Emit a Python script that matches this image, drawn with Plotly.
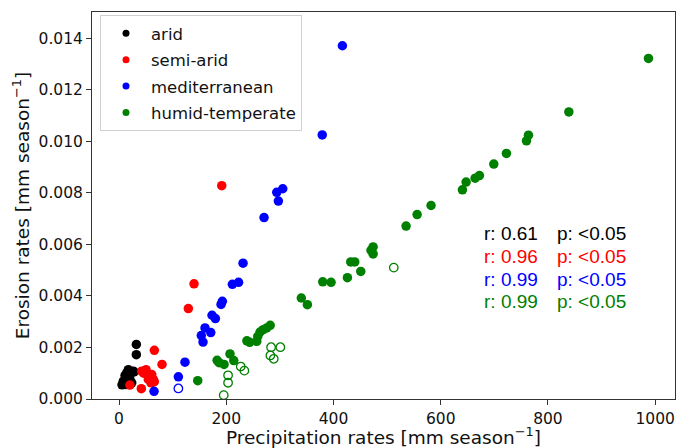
import plotly.graph_objects as go

# Seasonal precipitation (mm) and erosion rates (mm / season) by climate class
arid_p = [32.3, 32.3, 5.6, 8.0, 11.2, 13.0, 14.3, 17.4, 26.7, 23.7, 20.0, 28.0, 10.0]
arid_e = [0.00212, 0.00172, 0.00055, 0.00069, 0.00091, 0.00056, 0.00101, 0.00114,
          0.00108, 0.00063, 0.00080, 0.00105, 0.00060]

semi_p = [65.9, 80.2, 129.3, 139.9, 191.6, 41.6, 20.3, 50.4, 42.3, 61.0, 64.0, 54.7,
          59.7, 65.9, 46.0]
semi_e = [0.00189, 0.00134, 0.00351, 0.00447, 0.00828, 0.00040, 0.00054, 0.00114,
          0.00108, 0.00095, 0.00076, 0.00076, 0.00063, 0.00067, 0.00100]

med_p = [416.6, 379.0, 305.4, 294.2, 297.2, 270.5, 231.3, 223.0, 211.4, 192.7, 190.3,
         173.5, 179.7, 160.4, 171.1, 153.5, 156.7, 123.0, 110.7, 65.3]
med_e = [0.01371, 0.01025, 0.00816, 0.00802, 0.00768, 0.00704, 0.00527, 0.00453,
         0.00445, 0.00379, 0.00367, 0.00325, 0.00312, 0.00276, 0.00258, 0.00246,
         0.00221, 0.00143, 0.00086, 0.00030]
med_open_p = [110.7]
med_open_e = [0.00041]

hum_p = [987.5, 839.0, 763.7, 760.0, 722.6, 699.0, 672.2, 664.2, 647.4, 640.5, 582.0,
         556.0, 535.4, 473.9, 470.0, 473.9, 439.7, 432.2, 450.9, 426.0, 395.5, 380.0,
         340.0, 351.3, 282.0, 275.5, 269.0, 263.0, 258.8, 256.9, 243.8, 238.5, 207.0,
         214.0, 183.0, 186.6, 195.9, 146.8]
hum_e = [0.01322, 0.01114, 0.01024, 0.01002, 0.00953, 0.00912, 0.00867, 0.00857,
         0.00842, 0.00812, 0.00751, 0.00716, 0.00671, 0.00590, 0.00577, 0.00563,
         0.00532, 0.00532, 0.00495, 0.00471, 0.00453, 0.00455, 0.00392, 0.00366,
         0.00286, 0.00276, 0.00269, 0.00260, 0.00243, 0.00224, 0.00220, 0.00226,
         0.00175, 0.00149, 0.00150, 0.00141, 0.00134, 0.00071]
hum_open_p = [512.5, 283.6, 300.9, 282.3, 288.6, 227.0, 233.8, 203.4, 203.4, 195.3]
hum_open_e = [0.00510, 0.00201, 0.00201, 0.00169, 0.00156, 0.00126, 0.00110,
              0.00092, 0.00063, 0.00015]

stats_r = ["0.61", "0.96", "0.99", "0.99"]
stats_p = ["<0.05", "<0.05", "<0.05", "<0.05"]

COLORS = {"arid": "#000000", "semi-arid": "#ff0000",
          "mediterranean": "#0000ff", "humid-temperate": "#008000"}
MS = 9.5

fig = go.Figure()
groups = [("arid", arid_p, arid_e), ("semi-arid", semi_p, semi_e),
          ("mediterranean", med_p, med_e), ("humid-temperate", hum_p, hum_e)]
for name, xs, ys in groups:
    fig.add_trace(go.Scatter(
        x=xs, y=ys, mode="markers", name=name, legendgroup=name,
        showlegend=False,
        marker=dict(color=COLORS[name], size=MS, line=dict(width=0)),
    ))

for name, xs, ys in [("mediterranean", med_open_p, med_open_e),
                     ("humid-temperate", hum_open_p, hum_open_e)]:
    fig.add_trace(go.Scatter(
        x=xs, y=ys, mode="markers", showlegend=False, legendgroup=name,
        marker=dict(symbol="circle-open", color=COLORS[name], size=MS - 1,
                    line=dict(width=1.3, color=COLORS[name])),
    ))

# legend entries use a smaller swatch than the plotted markers
for name, _, _ in groups:
    fig.add_trace(go.Scatter(
        x=[None], y=[None], mode="markers", name=name, legendgroup=name,
        marker=dict(color=COLORS[name], size=7, line=dict(width=0)),
    ))

# figure geometry (pixels)
W, H = 676, 448
L, R, T, B = 92, 1, 12, 48.5
pw, ph = W - L - R, H - T - B


def px_x(x):
    return (x - L) / pw


def px_y(y):
    return (H - B - y) / ph


stat_colors = list(COLORS.values())
row_y = [233.5, 256.5, 279.5, 302.0]
for i in range(4):
    for lx, txt in [(482, "r: " + stats_r[i]), (555, "p: " + stats_p[i])]:
        fig.add_annotation(
            x=px_x(lx), y=px_y(row_y[i]), xref="paper", yref="paper",
            text=txt, showarrow=False, xanchor="left", yanchor="middle",
            font=dict(family="Liberation Sans, Arial", size=19,
                      color=stat_colors[i]),
        )

axis_common = dict(
    showline=True, linecolor="#333333", linewidth=1, mirror=True,
    ticks="outside", ticklen=5, tickwidth=1, tickcolor="#333333",
    showgrid=False, zeroline=False,
    tickfont=dict(family="DejaVu Sans", size=15.5, color="#111111"),
)

fig.update_layout(
    width=W, height=H,
    margin=dict(l=L, r=R, t=T, b=B, pad=0),
    paper_bgcolor="white", plot_bgcolor="white",
    font=dict(family="DejaVu Sans", color="#111111"),
    xaxis=dict(range=[-50.4, 1037], tickvals=[0, 200, 400, 600, 800, 1000],
               title=dict(text="Precipitation rates [mm season<sup>−1</sup>]",
                          font=dict(size=18.5), standoff=5),
               **axis_common),
    yaxis=dict(range=[0, 0.01502],
               tickvals=[0, 0.002, 0.004, 0.006, 0.008, 0.010, 0.012, 0.014],
               tickformat=".3f",
               title=dict(text="Erosion rates [mm season<sup>−1</sup>]",
                          font=dict(size=18.5), standoff=4),
               **axis_common),
    legend=dict(
        x=px_x(100), y=px_y(15), xanchor="left", yanchor="top",
        bgcolor="white", bordercolor="#d0d0d0", borderwidth=1,
        font=dict(family="DejaVu Sans", size=16.5, color="#111111"),
        itemwidth=40, tracegroupgap=2,
    ),
    showlegend=True,
)

fig.write_html("out.html")
